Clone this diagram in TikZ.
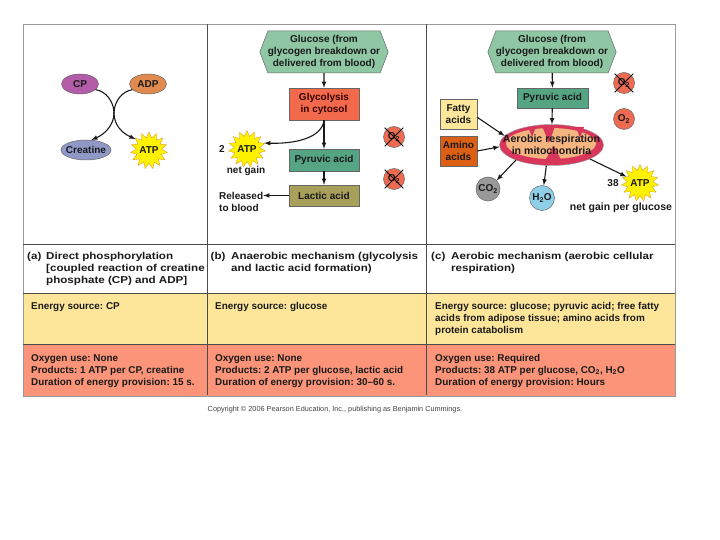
\documentclass[tikz,border=0pt]{standalone}
\usepackage{fontspec}
\setmainfont{Liberation Sans}
\newfontfamily\headfont[FakeStretch=1.16]{Liberation Sans}
\usetikzlibrary{arrows,shapes.geometric,shapes.symbols}

\definecolor{cpfill}{HTML}{B45CA8}
\definecolor{adpfill}{HTML}{E08A50}
\definecolor{creatfill}{HTML}{9098C8}
\definecolor{atpfill}{HTML}{FFF200}
\definecolor{atpline}{HTML}{E0A030}
\definecolor{glufill}{HTML}{8FC7A5}
\definecolor{glyfill}{HTML}{F26A4B}
\definecolor{pyrfill}{HTML}{55A585}
\definecolor{lacfill}{HTML}{A8A05A}
\definecolor{oxyfill}{HTML}{EE6A50}
\definecolor{fatfill}{HTML}{FDE79A}
\definecolor{amifill}{HTML}{DD5F14}
\definecolor{mitfill}{HTML}{D8365A}
\definecolor{crifill}{HTML}{F5B581}
\definecolor{cogray}{HTML}{999999}
\definecolor{waterfill}{HTML}{8FD0E8}
\definecolor{rowyellow}{HTML}{FDE69A}
\definecolor{roworange}{HTML}{FB9478}
\definecolor{inkdark}{HTML}{1A1A1A}

\tikzset{
  lab/.style={font=\fontsize{10}{12}\selectfont\bfseries\frenchspacing,text=inkdark,inner sep=0pt},
  box/.style={lab,draw=black!60,line width=0.5pt,align=center},
  oval/.style={box,ellipse},
  ball/.style={box,circle,fill=oxyfill,minimum size=21pt},
  burst/.style={draw=atpline,fill=atpfill,star,star points=15,star point ratio=1.45,inner sep=0pt,minimum size=37pt},
  hexa/.style={box,fill=glufill,signal,signal to=west and east,signal pointer angle=138,minimum width=128pt,minimum height=42pt},
  flow/.style={-latex,line width=1.1pt,draw=inkdark},
  strike/.style={line width=0.9pt,shorten >=-2.5pt,shorten <=-2.5pt},
  cell/.style={lab,anchor=north west,align=left,font=\fontsize{9.9}{12}\selectfont\bfseries\frenchspacing},
  head/.style={lab,anchor=north west,align=left,font=\headfont\fontsize{10}{12}\selectfont\bfseries\frenchspacing}
}

\begin{document}
\begin{tikzpicture}[>=latex,x=1pt,y=-1pt]

\useasboundingbox (0,0) rectangle (720,540);

\fill[color=rowyellow] (23,293) rectangle (675,344);
\fill[color=roworange] (23,344) rectangle (675,396);
\draw[color=black!40,line width=0.7pt] (23,24) rectangle (675,396);
\draw[color=black!70,line width=0.6pt] (23,244) -- (675,244);
\draw[color=black!70,line width=0.6pt] (23,293) -- (675,293);
\draw[color=black!70,line width=0.6pt] (23,344) -- (675,344);
\draw[color=black!70,line width=0.7pt] (207,24) -- (207,395);
\draw[color=black!70,line width=0.7pt] (426,24) -- (426,395);

\node (cp) at (80,84) [oval,fill=cpfill,minimum width=37pt,minimum height=20pt] {CP};
\node (adp) at (148,84) [oval,fill=adpfill,minimum width=37pt,minimum height=20pt] {ADP};
\node (creatine) at (86,150) [oval,fill=creatfill,minimum width=50pt,minimum height=20pt] {};
\node at (creatine) [lab] {Creatine};
\node (atpa) at (149,150.5) [burst] {};
\node at (atpa) [lab] {ATP};

\draw[flow] (cp.-20) .. controls (106,91) and (114,102) .. (114,113)
  .. controls (114,125) and (105,134) .. (creatine.62);
\draw[flow] (adp.200) .. controls (122,91) and (114,102) .. (114,113)
  .. controls (114,125) and (122,133) .. (atpa.140);

\node (glub) at (324,52) [hexa] {Glucose (from\\glycogen breakdown or\\delivered from blood)};
\node (glyco) at (324,104) [box,fill=glyfill,minimum width=70pt,minimum height=32pt,text=black!80!red] {Glycolysis\\in cytosol};
\node (pyrb) at (324,160) [box,fill=pyrfill,minimum width=70pt,minimum height=22pt] {Pyruvic acid};
\node (lactic) at (324,195.5) [box,fill=lacfill,minimum width=70pt,minimum height=21pt] {Lactic acid};
\node (atpb) at (247,149) [burst] {};
\node at (atpb) [lab] {ATP};
\node (twob) at (222,149) [lab] {2};
\node (gainb) at (246,171) [lab] {net gain};
\node (blood) at (219,202) [lab,anchor=west,align=left] {Released\\to blood};
\node (oxb) at (394,137) [ball] {O\textsubscript{2}};
\node (oxc) at (394,179) [ball] {O\textsubscript{2}};
\draw[strike] (oxb.north west) -- (oxb.south east);
\draw[strike] (oxb.north east) -- (oxb.south west);
\draw[strike] (oxc.north west) -- (oxc.south east);
\draw[strike] (oxc.north east) -- (oxc.south west);

\draw[flow] (glub) -- (glyco);
\draw[flow] (glyco) -- (pyrb);
\draw[flow] (pyrb) -- (lactic);
\draw[flow] (lactic) -- (blood.east |- lactic);
\draw[flow] (glyco.south) .. controls (322,138) and (295,144) .. (atpb.19);

\node (gluc) at (552,52) [hexa] {Glucose (from\\glycogen breakdown or\\delivered from blood)};
\node (pyrc) at (552.5,98) [box,fill=pyrfill,minimum width=71pt,minimum height=20pt] {Pyruvic acid};
\node (fatty) at (458.5,114) [box,fill=fatfill,minimum width=37pt,minimum height=30pt] {Fatty\\acids};
\node (amino) at (458.5,151) [box,fill=amifill,minimum width=37pt,minimum height=30pt] {Amino\\acids};

\node (mito) at (551.5,145) [ellipse,fill=mitfill,draw=black!40,line width=0.4pt,minimum width=104pt,minimum height=41pt,inner sep=0pt] {};
\fill[color=crifill] (551,143.5) circle[x radius=45,y radius=15.5];
\fill[color=mitfill] (528,127) -- (536,127) -- (532,137) -- cycle;
\fill[color=mitfill] (542,126) -- (555,126) -- (549,143) -- cycle;
\fill[color=mitfill] (576,127) -- (584,127) -- (580,138) -- cycle;
\fill[color=mitfill] (545,161) -- (562,161) -- (553,146) -- cycle;
\node at (mito) [lab,align=center,font=\fontsize{10.6}{12}\selectfont\bfseries] {Aerobic respiration\\in mitochondria};

\node (oxd) at (624,83) [ball] {O\textsubscript{2}};
\draw[strike] (oxd.north west) -- (oxd.south east);
\draw[strike] (oxd.north east) -- (oxd.south west);
\node (oxe) at (624,119) [ball] {O\textsubscript{2}};
\node (co2) at (488,189) [box,circle,fill=cogray,minimum size=24pt] {CO\textsubscript{2}};
\node (water) at (542,198) [box,circle,fill=waterfill,minimum size=25pt] {H\textsubscript{2}O};
\node (atpc) at (640,183) [burst] {};
\node at (atpc) [lab] {ATP};
\node (thirty) at (613,183) [lab] {38};
\node (gainc) at (621,208) [lab,font=\fontsize{10.5}{12}\selectfont\bfseries] {net gain per glucose};

\draw[flow] (gluc) -- (pyrc);
\draw[flow] (pyrc) -- (mito);
\draw[flow] (fatty.-10) -- (mito.169);
\draw[flow] (amino.east) -- (mito.182);
\draw[flow] (mito.-157) -- (co2.45);
\draw[flow] (mito.-104) -- (water.82);
\draw[flow] (mito.-20) -- (atpc.155);

\node (heada) at (27,252) [head] {(a)};
\node (headaa) at (46,252) [head] {Direct phosphorylation\\{[}coupled reaction of creatine\\phosphate (CP) and ADP{]}};
\node (headb) at (210.5,252) [head] {(b)};
\node (headbb) at (231,252) [head] {Anaerobic mechanism (glycolysis\\and lactic acid formation)};
\node (headc) at (431,252) [head] {(c)};
\node (headcc) at (451,252) [head] {Aerobic mechanism (aerobic cellular\\respiration)};

\node (enera) at (31,302.5) [cell] {Energy source: CP};
\node (enerb) at (215,302.5) [cell] {Energy source: glucose};
\node (enerc) at (435,302.5) [cell] {Energy source: glucose; pyruvic acid; free fatty\\acids from adipose tissue; amino acids from\\protein catabolism};

\node (useda) at (31,354) [cell] {Oxygen use: None\\Products: 1 ATP per CP, creatine\\Duration of energy provision: 15 s.};
\node (usedb) at (215,354) [cell] {Oxygen use: None\\Products: 2 ATP per glucose, lactic acid\\Duration of energy provision: 30–60 s.};
\node (usedc) at (435,354) [cell] {Oxygen use: Required\\Products: 38 ATP per glucose, CO\textsubscript{2}, H\textsubscript{2}O\\Duration of energy provision: Hours};

\node (copy) at (335,410) [lab,font=\fontsize{7.3}{8}\selectfont,text=black!75] {Copyright © 2006 Pearson Education, Inc., publishing as Benjamin Cummings.};

\end{tikzpicture}
\end{document}
